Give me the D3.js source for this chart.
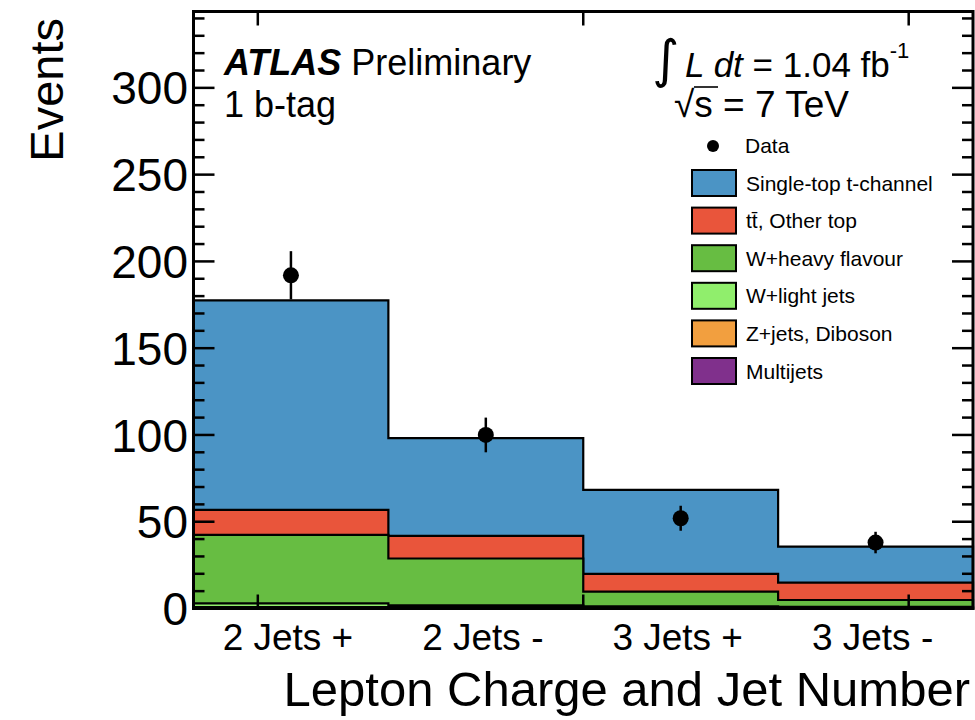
<!DOCTYPE html>
<html><head><meta charset="utf-8">
<script src="https://cdn.jsdelivr.net/npm/d3@7"></script>
<style>
body{margin:0;background:#fff;}
svg{display:block;font-family:"Liberation Sans",Arial,Helvetica,sans-serif;}
</style></head>
<body><svg id="c" width="975" height="720"></svg>
<script>
// ---------- data ----------
const categories = ["2 Jets +", "2 Jets -", "3 Jets +", "3 Jets -"];
const multijets  = [0.3, 0.3, 0.2, 0.2];
const zjetsDiboson = [0.5, 0.5, 0.4, 0.3];
const wLight     = [2.2, 1.0, 0.6, 0.5];
const wHeavy     = [39.4, 27.0, 8.5, 3.9];
const ttbarOther = [14.4, 13.0, 10.3, 10.0];
const singleTop  = [120.7, 56.4, 48.3, 20.8];
const dataValues = [192, 100, 52, 38];
const dataErrors = [13.9, 10.0, 7.2, 6.2];
const yTickValues = [0, 50, 100, 150, 200, 250, 300];
const seriesNames = ["Multijets", "Z+jets, Diboson", "W+light jets", "W+heavy flavour", "tt\u0304, Other top", "Single-top t-channel"];
const seriesColors = ["#80308c", "#f29f3f", "#90ee6c", "#67bd42", "#e9553b", "#4b94c5"];
const seriesValues = [multijets, zjetsDiboson, wLight, wHeavy, ttbarOther, singleTop];

// ---------- layout ----------
const L = 193.5, R = 973, T = 11.5, B = 608.5;
const svg = d3.select("#c");
const x = d3.scaleLinear().domain([0, categories.length]).range([L, R]);
const y = d3.scaleLinear().domain([0, 344]).range([B, T]);

// cumulative stacks
const cum = [];
seriesValues.forEach((s, i) => {
  cum.push(s.map((v, j) => v + (i > 0 ? cum[i - 1][j] : 0)));
});

const line = d3.line();
function stepPts(vals) {
  const pts = [[x(0), y(0)]];
  vals.forEach((v, j) => { pts.push([x(j), y(v)]); pts.push([x(j + 1), y(v)]); });
  pts.push([x(vals.length), y(0)]);
  return pts;
}
// draw from top layer to bottom
for (let i = cum.length - 1; i >= 0; i--) {
  svg.append("path").attr("d", line(stepPts(cum[i])) + "Z")
    .attr("fill", seriesColors[i]).attr("stroke", "#000").attr("stroke-width", 2.2)
    .attr("stroke-linejoin", "miter");
}

// data points
const dg = svg.append("g");
dataValues.forEach((v, j) => {
  const cx = x(j + 0.5);
  dg.append("line").attr("x1", cx).attr("x2", cx)
    .attr("y1", y(v - dataErrors[j])).attr("y2", y(v + dataErrors[j]))
    .attr("stroke", "#000").attr("stroke-width", 2.5);
  dg.append("circle").attr("cx", cx).attr("cy", y(v)).attr("r", 8).attr("fill", "#000");
});

// frame
svg.append("rect").attr("x", L).attr("y", T).attr("width", R - L).attr("height", B - T)
  .attr("fill", "none").attr("stroke", "#000").attr("stroke-width", 3);

// y ticks (left and right, inward)
const ax = svg.append("g").attr("stroke", "#000").attr("stroke-width", 2.5);
d3.range(0, 341, 10).forEach(v => {
  const len = v % 50 === 0 ? 21 : 11;
  ax.append("line").attr("x1", L).attr("x2", L + len).attr("y1", y(v)).attr("y2", y(v));
  ax.append("line").attr("x1", R).attr("x2", R - len).attr("y1", y(v)).attr("y2", y(v));
});
// x ticks (top and bottom)
[0.33, 2.0, 3.67].forEach(b => {
  ax.append("line").attr("x1", x(b)).attr("x2", x(b)).attr("y1", B).attr("y2", B - 14);
  ax.append("line").attr("x1", x(b)).attr("x2", x(b)).attr("y1", T).attr("y2", T + 14);
});

// y tick labels
svg.append("g").selectAll("text").data(yTickValues).join("text")
  .attr("x", 188).attr("y", d => y(d)).attr("dy", "0.36em")
  .attr("text-anchor", "end").attr("font-size", 46).text(d => d);

// x tick labels
svg.append("g").selectAll("text").data(categories).join("text")
  .attr("x", (d, i) => x(i + 0.5) - 3).attr("y", 650)
  .attr("text-anchor", "middle").attr("font-size", 37).text(d => d);

// axis titles
svg.append("text").attr("x", 970).attr("y", 706).attr("text-anchor", "end")
  .attr("font-size", 49).text("Lepton Charge and Jet Number");
svg.append("text").attr("transform", "translate(63,18) rotate(-90)").attr("text-anchor", "end")
  .attr("font-size", 47).text("Events");

// ATLAS label
const at = svg.append("text").attr("x", 224).attr("y", 75).attr("font-size", 36);
at.append("tspan").attr("font-weight", "bold").attr("font-style", "italic").text("ATLAS");
at.append("tspan").text(" Preliminary");
svg.append("text").attr("x", 224).attr("y", 117).attr("font-size", 36).text("1 b-tag");

// luminosity
const lum = svg.append("text").attr("x", 652).attr("y", 77).attr("font-size", 35);
lum.append("tspan").attr("font-size", 52).attr("font-family", "DejaVu Sans").text("\u222B");
lum.append("tspan").attr("font-style", "italic").attr("dx", 6).text("L dt");
lum.append("tspan").text(" = 1.04 fb");
lum.append("tspan").attr("font-size", 22).attr("dy", -19).text("-1");
const rs = svg.append("text").attr("x", 674).attr("y", 117).attr("font-size", 37);
rs.append("tspan").text("\u221As");
rs.append("tspan").text(" = 7 TeV");
svg.append("line").attr("x1", 694).attr("x2", 718).attr("y1", 87).attr("y2", 87)
  .attr("stroke", "#000").attr("stroke-width", 1.6);

// legend
const lg = svg.append("g");
lg.append("circle").attr("cx", 713).attr("cy", 146).attr("r", 6).attr("fill", "#000");
lg.append("text").attr("x", 745).attr("y", 153).attr("font-size", 21).text("Data");
const legOrder = [5, 4, 3, 2, 1, 0];
legOrder.forEach((si, k) => {
  const cy = 183 + k * 37.6;
  lg.append("rect").attr("x", 692).attr("y", cy - 13).attr("width", 44).attr("height", 26)
    .attr("fill", seriesColors[si]).attr("stroke", "#000").attr("stroke-width", 2);
  lg.append("text").attr("x", 746).attr("y", cy + 7.5).attr("font-size", 21).text(seriesNames[si]);
});
</script></body></html>
